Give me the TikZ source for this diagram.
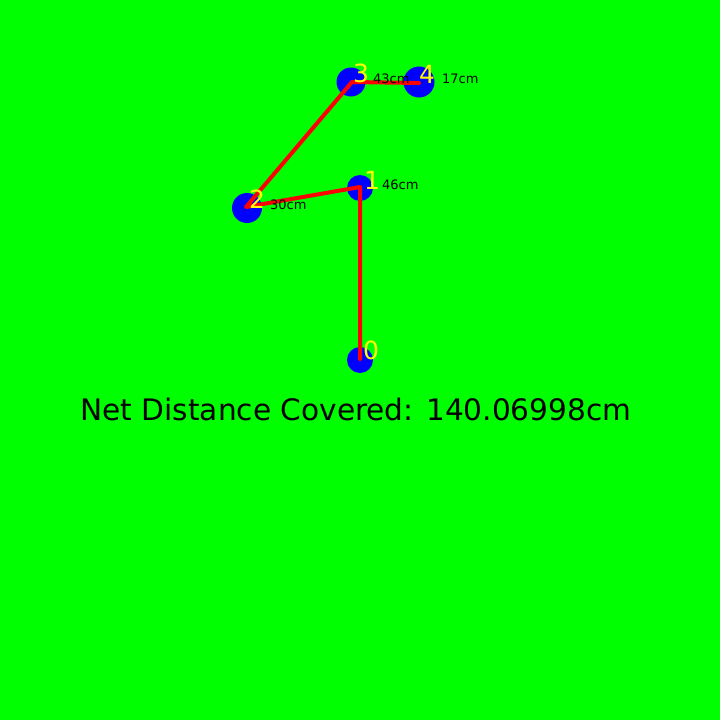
\documentclass[tikz,border=0pt]{standalone}
\usepackage{fontspec}
\setmainfont{DejaVu Sans}
\definecolor{bggreen}{RGB}{0,255,0}
\definecolor{dotblue}{RGB}{0,0,255}
\definecolor{pathred}{RGB}{255,0,0}
\definecolor{numyellow}{RGB}{255,255,0}
\tikzset{
  dot/.style={circle, fill=dotblue, inner sep=0pt, minimum size=#1},
  seg/.style={draw=pathred, line width=4pt, line cap=round, line join=round},
  numlbl/.style={anchor=base west, inner sep=0pt, text=numyellow, font=\fontsize{25}{25}\selectfont},
  distlbl/.style={anchor=base west, inner sep=0pt, text=black, font=\fontsize{13}{13}\selectfont},
  title/.style={anchor=base, inner sep=0pt, text=black, font=\fontsize{29.6}{30}\selectfont}
}
\begin{document}
\begin{tikzpicture}[x=1pt,y=-1pt]
\fill[bggreen] (0,0) rectangle (720,720);
\useasboundingbox (0,0) rectangle (720,720);
\node[dot=26pt] (p0) at (360,360) {};
\node[dot=26pt] (p1) at (360,188) {};
\node[dot=30pt] (p2) at (247,208) {};
\node[dot=29pt] (p3) at (351,82) {};
\node[dot=31pt] (p4) at (419,82) {};
\coordinate (c0) at (360,359);
\coordinate (c1) at (360,187);
\coordinate (c2) at (246,207);
\coordinate (c3) at (352,82);
\coordinate (c4) at (419,83);
\draw[seg] (c0) -- (c1) -- (c2) -- (c3) -- (c4);
\node[numlbl] (n0) at (363,359) {0};
\node[numlbl] (n1) at (364,189) {1};
\node[numlbl] (n2) at (249,208) {2};
\node[numlbl] (n3) at (353,82) {3};
\node[numlbl] (n4) at (419,83) {4};
\node[distlbl] (d1) at (382,189) {46cm};
\node[distlbl] (d2) at (270,209) {30cm};
\node[distlbl] (d3) at (373,83) {43cm};
\node[distlbl] (d4) at (442,83) {17cm};
\node[title] (t) at (356,420) {Net Distance Covered: 140.06998cm};
\end{tikzpicture}
\end{document}
